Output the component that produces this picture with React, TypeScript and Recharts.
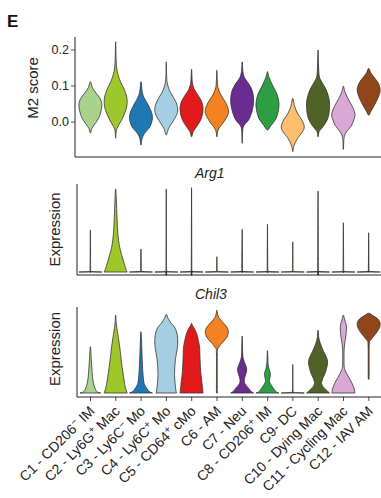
import React from 'react';
import { BarChart, Bar, XAxis, YAxis } from 'recharts';

// clusters along the x axis
const clusters = [
  'C1 - CD206⁻ IM',
  'C2 - Ly6G⁺ Mac',
  'C3 - Ly6C⁻ Mo',
  'C4 - Ly6C⁺ Mo',
  'C5 - CD64⁺ cMo',
  'C6 - AM',
  'C7 - Neu',
  'C8 - CD206⁺ IM',
  'C9- DC',
  'C10 - Dying Mac',
  'C11 - Cycling Mac',
  'C12 - IAV AM',
];

const clusterColors = [
  '#a9d38b', '#9dc72b', '#1f78b4', '#a6cee3', '#e31a1c', '#f58220',
  '#6b2c91', '#2e9e44', '#fdbf6f', '#4f6228', '#d9a8d6', '#91461a',
];

// violin outlines: [value, relative density width], from min to max
const m2Density: number[][][] = [
  [[-0.031, 0], [-0.018, 0.12], [-0.005, 0.4], [0.015, 0.78], [0.045, 1], [0.065, 0.85], [0.08, 0.5], [0.095, 0.18], [0.112, 0]],
  [[-0.045, 0], [-0.025, 0.05], [-0.012, 0.2], [0.008, 0.55], [0.035, 0.9], [0.06, 1], [0.085, 0.82], [0.11, 0.45], [0.13, 0.22], [0.15, 0.09], [0.18, 0.035], [0.223, 0]],
  [[-0.064, 0], [-0.048, 0.08], [-0.032, 0.3], [-0.012, 0.8], [0.015, 1], [0.04, 0.75], [0.06, 0.4], [0.08, 0.13], [0.112, 0]],
  [[-0.036, 0], [-0.018, 0.2], [0, 0.55], [0.018, 0.88], [0.035, 1], [0.055, 0.85], [0.075, 0.5], [0.09, 0.25], [0.11, 0.08], [0.13, 0.03], [0.167, 0]],
  [[-0.041, 0], [-0.026, 0.15], [-0.01, 0.5], [0.01, 0.85], [0.035, 1], [0.055, 0.9], [0.075, 0.55], [0.09, 0.25], [0.11, 0.07], [0.147, 0]],
  [[-0.041, 0], [-0.025, 0.08], [-0.014, 0.25], [0, 0.6], [0.02, 0.95], [0.035, 1], [0.055, 0.75], [0.075, 0.35], [0.095, 0.1], [0.115, 0.04], [0.144, 0]],
  [[-0.059, 0], [-0.025, 0.04], [-0.01, 0.15], [0.008, 0.6], [0.035, 0.9], [0.06, 1], [0.085, 0.9], [0.105, 0.6], [0.122, 0.22], [0.14, 0.06], [0.167, 0]],
  [[-0.022, 0], [-0.01, 0.3], [0.01, 0.75], [0.033, 0.95], [0.052, 1], [0.075, 0.85], [0.095, 0.55], [0.115, 0.25], [0.13, 0.08], [0.14, 0]],
  [[-0.082, 0], [-0.066, 0.1], [-0.046, 0.4], [-0.027, 0.85], [-0.013, 1], [0.005, 0.8], [0.025, 0.4], [0.045, 0.15], [0.066, 0]],
  [[-0.041, 0], [-0.026, 0.1], [-0.012, 0.45], [0.01, 0.85], [0.04, 1], [0.065, 0.95], [0.09, 0.7], [0.11, 0.35], [0.125, 0.12], [0.15, 0.05], [0.2, 0]],
  [[-0.076, 0], [-0.045, 0.06], [-0.028, 0.25], [-0.01, 0.7], [0.01, 0.95], [0.024, 1], [0.045, 0.75], [0.065, 0.4], [0.085, 0.12], [0.1, 0]],
  [[0.019, 0], [0.03, 0.2], [0.05, 0.55], [0.07, 0.85], [0.09, 1], [0.11, 0.8], [0.125, 0.45], [0.137, 0.18], [0.149, 0]],
];

const arg1Density: number[][][] = [
  [[0, 1], [0.04, 0.05], [0.2, 0.025], [2.39, 0]],
  [[0, 1], [0.2, 0.88], [0.4, 0.78], [0.87, 0.57], [1.44, 0.34], [2.2, 0.19], [3.1, 0.12], [4.1, 0.06], [4.72, 0]],
  [[0, 1], [0.04, 0.05], [0.2, 0.025], [1.31, 0]],
  [[0, 1], [0.04, 0.05], [0.2, 0.025], [4.72, 0]],
  [[0, 1], [0.04, 0.05], [0.2, 0.025], [4.79, 0]],
  [[0, 1], [0.04, 0.05], [0.2, 0.025], [0.87, 0]],
  [[0, 1], [0.04, 0.05], [0.2, 0.025], [2.43, 0]],
  [[0, 1], [0.04, 0.05], [0.2, 0.025], [2.71, 0]],
  [[0, 1], [0.04, 0.05], [0.2, 0.025], [1.72, 0]],
  [[0, 1], [0.04, 0.05], [0.2, 0.025], [4.6, 0]],
  [[0, 1], [0.04, 0.05], [0.2, 0.025], [2.8, 0]],
  [[0, 1], [0.04, 0.05], [0.2, 0.025], [2.23, 0]],
];

const chil3Density: number[][][] = [
  [[0, 0.9], [0.06, 0.55], [0.24, 0.36], [0.5, 0.22], [0.88, 0.14], [1.27, 0.08], [1.6, 0.04], [1.78, 0]],
  [[0, 1], [0.2, 0.85], [0.5, 0.73], [1.14, 0.52], [1.78, 0.35], [2.17, 0.22], [2.42, 0.13], [2.7, 0.05], [3.0, 0]],
  [[0, 1], [0.06, 0.7], [0.18, 0.5], [0.38, 0.27], [0.77, 0.17], [1.38, 0.1], [1.9, 0.06], [2.36, 0]],
  [[0, 0.88], [0.3, 0.78], [0.8, 0.72], [1.3, 0.8], [1.7, 0.95], [2.05, 1], [2.35, 0.9], [2.55, 0.7], [2.68, 0.43], [2.87, 0.16], [3.03, 0]],
  [[0, 1], [0.3, 0.93], [0.8, 0.8], [1.3, 0.74], [1.78, 0.69], [2.1, 0.55], [2.3, 0.43], [2.5, 0.22], [2.6, 0.08], [2.68, 0]],
  [[0, 0.04], [1.55, 0.04], [1.75, 0.15], [1.95, 0.5], [2.15, 0.88], [2.36, 1], [2.55, 0.85], [2.75, 0.45], [2.92, 0.15], [3.05, 0.06], [3.19, 0]],
  [[0, 1], [0.07, 0.75], [0.19, 0.55], [0.35, 0.25], [0.5, 0.18], [0.7, 0.3], [0.88, 0.4], [1.05, 0.32], [1.27, 0.13], [1.5, 0.05], [2.19, 0]],
  [[0, 1], [0.07, 0.7], [0.24, 0.43], [0.43, 0.18], [0.6, 0.22], [0.72, 0.26], [0.85, 0.2], [0.96, 0.12], [1.15, 0.05], [1.63, 0]],
  [[0, 1], [0.03, 0.05], [0.12, 0.025], [1.1, 0]],
  [[0, 1], [0.1, 0.75], [0.25, 0.42], [0.37, 0.3], [0.55, 0.4], [0.85, 0.68], [1.2, 0.83], [1.45, 0.65], [1.65, 0.43], [1.85, 0.25], [1.97, 0.15], [2.15, 0.06], [2.42, 0]],
  [[0, 1], [0.15, 0.95], [0.35, 0.78], [0.5, 0.6], [0.7, 0.35], [0.85, 0.18], [0.95, 0.1], [1.1, 0.06], [1.6, 0.06], [1.92, 0.12], [2.2, 0.22], [2.55, 0.27], [2.75, 0.16], [2.9, 0.07], [3.0, 0]],
  [[0.57, 0], [0.65, 0.04], [1.85, 0.05], [2.05, 0.2], [2.3, 0.65], [2.5, 0.92], [2.68, 1], [2.85, 0.8], [2.97, 0.4], [3.07, 0]],
];

const m2Ticks = [0, 0.1, 0.2];
const arg1Ticks = [0, 1, 2, 3, 4, 5];
const chil3Ticks = [0, 1, 2, 3];

const FONT = '"Liberation Sans", Arial, Helvetica, sans-serif';
const INK = '#222';
const CHART_W = 392;

const toRows = (density: number[][][]) =>
  clusters.map((name, i) => {
    const p = density[i];
    return { name, range: [p[0][0], p[p.length - 1][0]], profile: p, color: clusterColors[i] };
  });

// catmull-rom through the outline points
function smoothPath(pts: number[][], closed: boolean) {
  const n = pts.length;
  const get = (i: number) => (closed ? pts[(i + n) % n] : pts[Math.max(0, Math.min(n - 1, i))]);
  const f = (v: number) => v.toFixed(2);
  let d = `M${f(pts[0][0])},${f(pts[0][1])}`;
  const segs = closed ? n : n - 1;
  for (let i = 0; i < segs; i++) {
    const p0 = get(i - 1), p1 = get(i), p2 = get(i + 1), p3 = get(i + 2);
    const c1x = p1[0] + (p2[0] - p0[0]) / 6, c1y = p1[1] + (p2[1] - p0[1]) / 6;
    const c2x = p2[0] - (p3[0] - p1[0]) / 6, c2y = p2[1] - (p3[1] - p1[1]) / 6;
    d += ` C${f(c1x)},${f(c1y)} ${f(c2x)},${f(c2y)} ${f(p2[0])},${f(p2[1])}`;
  }
  return d + ' Z';
}

const Violin = (props: any) => {
  const { x, y, width, height, payload } = props;
  if (!payload || !payload.profile) return <g />;
  const prof: number[][] = payload.profile;
  const lo = prof[0][0];
  const hi = prof[prof.length - 1][0];
  const top = Math.min(y, y + height);
  const h = Math.abs(height);
  const cx = x + width / 2;
  const hw = width / 2;
  const Y = (v: number) => top + ((hi - v) / (hi - lo)) * h;
  const right = prof.map(([v, w]) => [cx + w * hw, Y(v)]);
  const left = prof.map(([v, w]) => [cx - w * hw, Y(v)]).reverse();
  if (prof[prof.length - 1][1] === 0) left.shift();
  const closed = prof[0][1] === 0;
  if (closed) left.pop();
  const d = smoothPath([...right, ...left], closed);
  return <path d={d} fill={payload.color} stroke="#333" strokeWidth={0.8} strokeLinejoin="round" />;
};

const ClusterTick = (props: any) => {
  const { x, y, payload } = props;
  const ax = x + 5;
  const ay = y + 9;
  const parts = String(payload.value).split(/([⁺⁻])/);
  let raised = false;
  return (
    <text
      x={ax}
      y={ay}
      textAnchor="end"
      transform={`rotate(-45, ${ax}, ${ay})`}
      fontSize={14}
      fontFamily={FONT}
      fill={INK}
    >
      {parts.map((part, i) => {
        if (part === '⁺' || part === '⁻') {
          raised = true;
          return (
            <tspan key={i} dy={-5} fontSize={10}>
              {part === '⁺' ? '+' : '−'}
            </tspan>
          );
        }
        const dy = raised ? 5 : undefined;
        raised = false;
        return (
          <tspan key={i} dy={dy}>
            {part}
          </tspan>
        );
      })}
    </text>
  );
};

type PanelProps = {
  density: number[][][];
  height: number;
  plotTop: number;
  plotBottom: number;
  axisW: number;
  domain: number[];
  ticks: number[];
  tickLabels?: boolean;
  xLabels?: boolean;
};

function Panel({ density, height, plotTop, plotBottom, axisW, domain, ticks, tickLabels, xLabels }: PanelProps) {
  const rows = toRows(density);
  const padLeft = 77.85 - axisW;
  return (
    <div style={{ position: 'absolute', left: 0, top: 0 }}>
      <BarChart
        width={CHART_W}
        height={height}
        data={rows}
        margin={{ top: plotTop, right: 7.7, bottom: 0, left: 0 }}
        barCategoryGap="4%"
      >
        <XAxis
          dataKey="name"
          type="category"
          interval={0}
          height={height - plotBottom}
          padding={{ left: padLeft, right: 2.85 }}
          tickSize={4}
          tickMargin={2}
          axisLine={{ stroke: INK, strokeWidth: 1 }}
          tickLine={{ stroke: INK, strokeWidth: 0.8 }}
          tick={xLabels ? <ClusterTick /> : false}
        />
        <YAxis
          type="number"
          width={axisW}
          domain={domain}
          ticks={ticks}
          tickSize={4}
          tickMargin={2}
          axisLine={{ stroke: INK, strokeWidth: 1 }}
          tickLine={{ stroke: INK, strokeWidth: 0.8 }}
          tick={tickLabels ? { fontSize: 12.5, fill: INK, fontFamily: FONT } : false}
          tickFormatter={(v: number) => v.toFixed(1)}
        />
        <Bar dataKey="range" shape={<Violin />} isAnimationActive={false} />
      </BarChart>
    </div>
  );
}

export default function App() {
  return (
    <div
      style={{
        position: 'absolute',
        left: 0,
        top: 0,
        width: 381,
        height: 498,
        overflow: 'hidden',
        background: '#fff',
        fontFamily: FONT,
      }}
    >
      <Panel density={m2Density} height={170} plotTop={37} plotBottom={157} axisW={75} domain={[-0.097, 0.236]} ticks={m2Ticks} tickLabels />
      <Panel density={arg1Density} height={290} plotTop={184} plotBottom={275} axisW={77} domain={[-0.17, 5]} ticks={arg1Ticks} />
      <Panel density={chil3Density} height={498} plotTop={307} plotBottom={397} axisW={77} domain={[-0.154, 3.31]} ticks={chil3Ticks} xLabels />
      <svg width={381} height={498} style={{ position: 'absolute', left: 0, top: 0, pointerEvents: 'none' }}>
        <text x={7} y={27} fontSize={17} fontWeight="bold" fontFamily={FONT} fill="#111">E</text>
        <text x={38} y={88} fontSize={15} textAnchor="middle" transform="rotate(-90, 38, 88)" fontFamily={FONT} fill={INK}>M2 score</text>
        <text x={60} y={229.5} fontSize={15} textAnchor="middle" transform="rotate(-90, 60, 229.5)" fontFamily={FONT} fill={INK}>Expression</text>
        <text x={60} y={349} fontSize={15} textAnchor="middle" transform="rotate(-90, 60, 349)" fontFamily={FONT} fill={INK}>Expression</text>
        <text x={195} y={178} fontSize={14} fontStyle="italic" fontFamily={FONT} fill={INK}>Arg1</text>
        <text x={195} y={299} fontSize={14} fontStyle="italic" fontFamily={FONT} fill={INK}>Chil3</text>
      </svg>
    </div>
  );
}
